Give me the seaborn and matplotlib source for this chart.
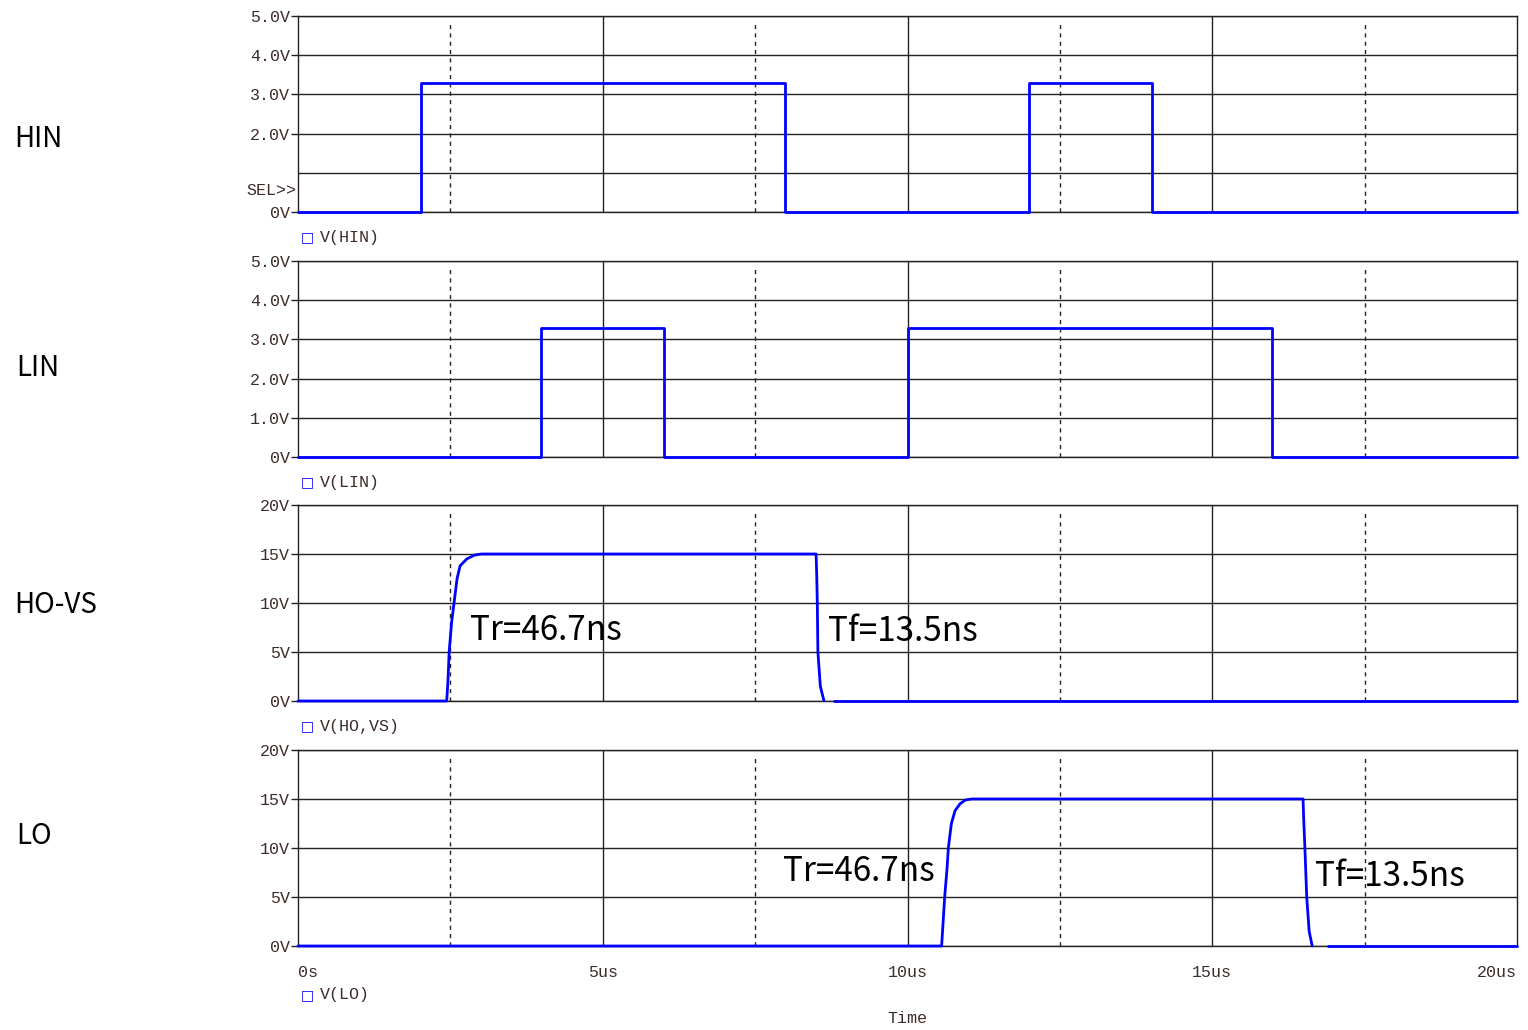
#!/usr/bin/env python3
"""
Gate driver timing waveforms: HIN / LIN inputs and HO-VS / LO outputs.
"""
import numpy as np
import pandas as pd
import matplotlib
matplotlib.use("Agg")
import matplotlib.pyplot as plt
import seaborn as sns

# ---- data (time in us, voltage in V) ----
hin_t = [0.0, 2.02, 2.02, 7.99, 7.99, 12.0, 12.0, 14.01, 14.01, 20.0]
hin_v = [0.0, 0.0, 3.3, 3.3, 0.0, 0.0, 3.3, 3.3, 0.0, 0.0]

lin_t = [0.0, 3.99, 3.99, 6.0, 6.0, 10.0, 10.0, 15.98, 15.98, 20.0]
lin_v = [0.0, 0.0, 3.3, 3.3, 0.0, 0.0, 3.3, 3.3, 0.0, 0.0]

# NaN marks the small break in the trace just after the falling edge
ho_t = [0.0, 2.44, 2.46, 2.48, 2.52, 2.56, 2.61, 2.66, 2.77, 2.90, 3.01,
        8.50, 8.51, 8.52, 8.53, 8.57, 8.63, np.nan, 8.79, 20.0]
ho_v = [0.0, 0.0, 2.0, 5.0, 8.0, 10.0, 12.5, 13.8, 14.5, 14.9, 15.0,
        15.0, 13.0, 10.0, 5.0, 1.5, 0.0, np.nan, 0.0, 0.0]

lo_t = [0.0, 10.56, 10.58, 10.61, 10.65, 10.67, 10.72, 10.78, 10.86, 10.95, 11.05,
        16.49, 16.50, 16.52, 16.55, 16.59, 16.64, np.nan, 16.90, 20.0]
lo_v = [0.0, 0.0, 2.0, 5.0, 8.0, 10.0, 12.5, 13.8, 14.5, 14.9, 15.0,
        15.0, 13.0, 10.0, 5.0, 1.5, 0.0, np.nan, 0.0, 0.0]

signal_names = ["HIN", "LIN", "HO-VS", "LO"]
legend_names = ["V(HIN)", "V(LIN)", "V(HO,VS)", "V(LO)"]

x_ticks = [0, 5, 10, 15, 20]
x_tick_labels = ["0s", "5us", "10us", "15us", "20us"]
dashed_x = [2.5, 7.5, 12.5, 17.5]

small_ticks = [0, 2, 3, 4, 5]
small_labels = ["0V", "2.0V", "3.0V", "4.0V", "5.0V"]
lin_ticks = [0, 1, 2, 3, 4, 5]
lin_labels = ["0V", "1.0V", "2.0V", "3.0V", "4.0V", "5.0V"]
big_ticks = [0, 5, 10, 15, 20]
big_labels = ["0V", "5V", "10V", "15V", "20V"]

annotations = [
    (2, 2.82, 7.2, "Tr=46.7ns"),
    (2, 8.70, 7.1, "Tf=13.5ns"),
    (3, 7.96, 7.6, "Tr=46.7ns"),
    (3, 16.69, 7.1, "Tf=13.5ns"),
]


def split_segments(t, v):
    # split the trace at NaN rows into separate clean frames
    df = pd.DataFrame({"t": t, "v": v})
    df["seg"] = df["t"].isna().cumsum()
    df = df.dropna()
    return [g[["t", "v"]].reset_index(drop=True) for _, g in df.groupby("seg")]


sns.set_theme(style="white")
plt.rcParams["font.family"] = ["Noto Sans CJK JP", "DejaVu Sans"]

MONO = "Liberation Mono"
TICK_COLOR = "#3d2b2b"
BLUE = "#0000ff"

fig = plt.figure(figsize=(15.28, 10.30), dpi=100)
left, width, height = 298 / 1528, 1219 / 1528, 196 / 1030
bottoms = [1 - 212 / 1030, 1 - 457 / 1030, 1 - 701 / 1030, 1 - 946 / 1030]
name_y = [1 - 139 / 1030, 1 - 368 / 1030, 1 - 605 / 1030, 1 - 836 / 1030]
name_x = [14 / 1528, 16 / 1528, 14 / 1528, 16 / 1528]

series = [(hin_t, hin_v), (lin_t, lin_v), (ho_t, ho_v), (lo_t, lo_v)]
yticks = [(small_ticks, small_labels), (lin_ticks, lin_labels),
          (big_ticks, big_labels), (big_ticks, big_labels)]
ylims = [5, 5, 20, 20]

for i in range(4):
    ax = fig.add_axes([left, bottoms[i], width, height])
    for seg in split_segments(*series[i]):
        sns.lineplot(x=seg["t"].to_numpy(), y=seg["v"].to_numpy(), ax=ax,
                     color=BLUE, linewidth=2.0, estimator=None, sort=False,
                     zorder=5, clip_on=False)
    ax.set_xlim(0, 20)
    ax.set_ylim(0, ylims[i])
    ax.set_xlabel("")
    ax.set_ylabel("")

    ticks, labels = yticks[i]
    ax.set_yticks(ticks)
    ax.set_yticklabels(labels, fontfamily=MONO, fontsize=12, color=TICK_COLOR)
    ax.tick_params(axis="y", direction="out", length=5, width=1, color="#222222",
                   pad=1, left=True)

    # horizontal grid
    for yv in ticks:
        ax.axhline(yv, color="#222222", linewidth=1.0, zorder=1)
    if i == 0:
        ax.axhline(1, color="#222222", linewidth=1.0, zorder=1)
        ax.text(-0.03, 0.56, "SEL>>", transform=ax.transData, ha="right",
                va="center", fontfamily=MONO, fontsize=12, color=TICK_COLOR)

    # vertical grid
    for xv in [5, 10, 15]:
        ax.axvline(xv, color="#222222", linewidth=1.0, zorder=1)
    for xv in dashed_x:
        ax.axvline(xv, ymax=0.97, color="#222222", linewidth=1.0,
                   linestyle=(0, (3, 3)), zorder=1)

    for side in ["left", "right", "top", "bottom"]:
        ax.spines[side].set_visible(True)
        ax.spines[side].set_color("#222222")
        ax.spines[side].set_linewidth(1.0)

    ax.set_xticks(x_ticks)
    if i == 3:
        ax.set_xticklabels(x_tick_labels, fontfamily=MONO, fontsize=12,
                           color=TICK_COLOR)
        ax.tick_params(axis="x", length=0, pad=14)
        ax.get_xticklabels()[0].set_ha("left")
        ax.get_xticklabels()[-1].set_ha("right")
    else:
        ax.set_xticklabels([])
        ax.tick_params(axis="x", length=0)

    # legend entry below each panel
    ly = -0.13 if i < 3 else -0.25
    ax.text(0.002, ly, "\u25a1", transform=ax.transAxes, ha="left", va="center",
            fontfamily="DejaVu Sans", fontsize=10, color=BLUE)
    ax.text(0.018, ly, legend_names[i], transform=ax.transAxes, ha="left",
            va="center", fontfamily=MONO, fontsize=12, color=TICK_COLOR)

    # signal name at the far left
    fig.text(name_x[i], name_y[i], signal_names[i],
             ha="left", va="center", fontsize=20, color="black")

    for idx, tx, vy, s in annotations:
        if idx == i:
            ax.text(tx, vy, s, ha="left", va="center", fontsize=24,
                    color="black", zorder=6)

    if i == 3:
        ax.text(0.5, -0.37, "Time", transform=ax.transAxes, ha="center",
                va="center", fontfamily=MONO, fontsize=12, color=TICK_COLOR)

fig.savefig("out.png", dpi=100, facecolor="white")
